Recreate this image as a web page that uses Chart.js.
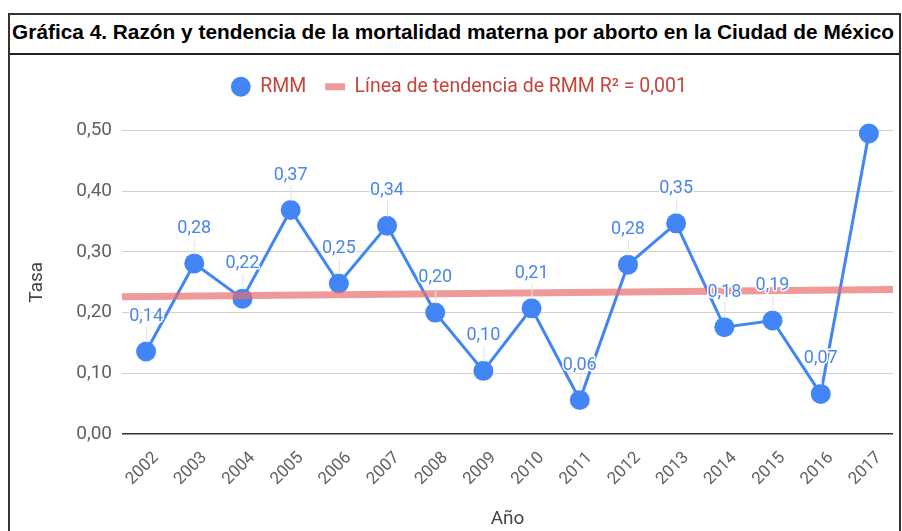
<!DOCTYPE html>
<html>
<head>
<meta charset="utf-8">
<script src="https://cdn.jsdelivr.net/npm/chart.js@4.4.1/dist/chart.umd.min.js"></script>
<style>
  body { margin: 0; background: #fff; width: 902px; height: 531px; overflow: hidden; position: relative; }
  #frame { position: absolute; left: 8px; top: 13px; width: 889px; height: 530px; border: 2px solid #333; border-bottom: none; }
  #title { position: absolute; left: 0; top: 0; width: 889px; height: 38px; border-bottom: 2px solid #222;
           font: bold 20px "Liberation Sans", Arial, sans-serif; color: #000; line-height: 35px; white-space: nowrap; }
  #title span { display: inline-block; transform-origin: 0 50%; padding-left: 2px; }
  #wrap { position: absolute; left: 0; top: 40px; width: 893px; height: 476px; }
</style>
</head>
<body>
<div id="frame">
  <div id="title"><span id="titleText">Gráfica 4. Razón y tendencia de la mortalidad materna por aborto en la Ciudad de México</span></div>
  <div id="wrap"><canvas id="chart" width="893" height="476"></canvas></div>
</div>
<script>
// fit the title into the header width
const tt = document.getElementById('titleText');
tt.style.transform = 'scaleX(' + (884 / tt.getBoundingClientRect().width) + ')';

const years = [2002, 2003, 2004, 2005, 2006, 2007, 2008, 2009, 2010, 2011, 2012, 2013, 2014, 2015, 2016, 2017];
const rmm = [0.136, 0.281, 0.223, 0.369, 0.248, 0.343, 0.200, 0.104, 0.207, 0.056, 0.279, 0.347, 0.176, 0.187, 0.066, 0.495];
const trendYears = [2001.5, 2017.5];
const trendValues = [0.226, 0.238];
const yTicks = [0, 0.1, 0.2, 0.3, 0.4, 0.5];

const fmt = (v) => v.toFixed(2).replace('.', ',');

// value labels with a thin stem, like the annotations in the original
const valueLabels = {
  id: 'valueLabels',
  afterDatasetsDraw(chart) {
    const ctx = chart.ctx;
    const meta = chart.getDatasetMeta(1);
    const top = chart.chartArea.top;
    ctx.save();
    ctx.font = '18px Roboto';
    ctx.textAlign = 'center';
    ctx.textBaseline = 'middle';
    meta.data.forEach((pt, i) => {
      const ly = pt.y - 35;
      if (ly < top) return;
      ctx.strokeStyle = '#e3e3e3';
      ctx.lineWidth = 1;
      ctx.beginPath();
      ctx.moveTo(pt.x + 0.5, ly + 10);
      ctx.lineTo(pt.x + 0.5, pt.y - 9);
      ctx.stroke();
      ctx.strokeStyle = '#fff';
      ctx.lineWidth = 3;
      ctx.lineJoin = 'round';
      ctx.strokeText(fmt(rmm[i]), pt.x, ly);
      ctx.fillStyle = '#4a86e8';
      ctx.fillText(fmt(rmm[i]), pt.x, ly);
    });
    ctx.restore();
  }
};

// leave more room between the legend and the plot
const legendGap = {
  id: 'legendGap',
  beforeLayout(chart) {
    const lg = chart.legend;
    if (!lg || lg._gapPatched) return;
    const fit = lg.fit.bind(lg);
    lg.fit = function () { fit(); this.height += 24; };
    lg._gapPatched = true;
  }
};

new Chart(document.getElementById('chart'), {
  type: 'line',
  data: {
    datasets: [
      {
        label: 'Línea de tendencia de RMM R² = 0,001',
        data: trendYears.map((x, i) => ({ x, y: trendValues[i] })),
        borderColor: 'rgba(232,110,110,0.7)',
        backgroundColor: 'rgba(232,110,110,0.7)',
        borderWidth: 7,
        pointRadius: 0,
        pointStyle: 'line',
        order: 0
      },
      {
        label: 'RMM',
        data: years.map((x, i) => ({ x, y: rmm[i] })),
        borderColor: '#4285f4',
        backgroundColor: '#4285f4',
        borderWidth: 3,
        pointRadius: 10,
        pointHoverRadius: 10,
        pointBorderWidth: 0,
        pointStyle: 'circle',
        clip: false,
        order: 1
      }
    ]
  },
  options: {
    responsive: false,
    animation: false,
    layout: { padding: { left: 8, right: 3, top: 3, bottom: 0 } },
    plugins: {
      tooltip: { enabled: false },
      legend: {
        position: 'top',
        reverse: true,
        labels: {
          usePointStyle: true,
          boxHeight: 14,
          color: '#c5453a',
          font: { family: 'Roboto', size: 19.5 },
          padding: 19
        }
      }
    },
    scales: {
      x: {
        type: 'linear',
        min: trendYears[0],
        max: trendYears[1],
        afterBuildTicks: (s) => { s.ticks = years.map((v) => ({ value: v })); },
        afterFit: (s) => { s.height = 97; s.paddingLeft = 0; s.paddingRight = 0; },
        grid: { display: false },
        border: { display: false },
        ticks: {
          minRotation: 45,
          maxRotation: 45,
          labelOffset: 10,
          padding: 6,
          color: '#616161',
          font: { family: 'Roboto', size: 17 },
          callback: (v) => String(v)
        },
        title: { display: true, text: 'Año', color: '#444', font: { family: 'Roboto', size: 19 }, padding: { top: 0, bottom: 0 } }
      },
      y: {
        min: 0,
        max: 0.5,
        afterBuildTicks: (s) => { s.ticks = yTicks.map((v) => ({ value: v })); },
        afterFit: (s) => { s.width = 104; },
        grid: {
          color: (c) => (c.tick && c.tick.value === 0 ? '#333' : '#d0d0d0'),
          lineWidth: (c) => (c.tick && c.tick.value === 0 ? 1.5 : 1),
          drawTicks: false
        },
        border: { display: false },
        ticks: {
          padding: 10,
          color: '#616161',
          font: { family: 'Roboto', size: 19 },
          callback: (v) => fmt(v)
        },
        title: { display: true, text: 'Tasa', color: '#444', font: { family: 'Roboto', size: 19 }, padding: { top: 8, bottom: 0 } }
      }
    }
  },
  plugins: [valueLabels, legendGap]
});
</script>
</body>
</html>
